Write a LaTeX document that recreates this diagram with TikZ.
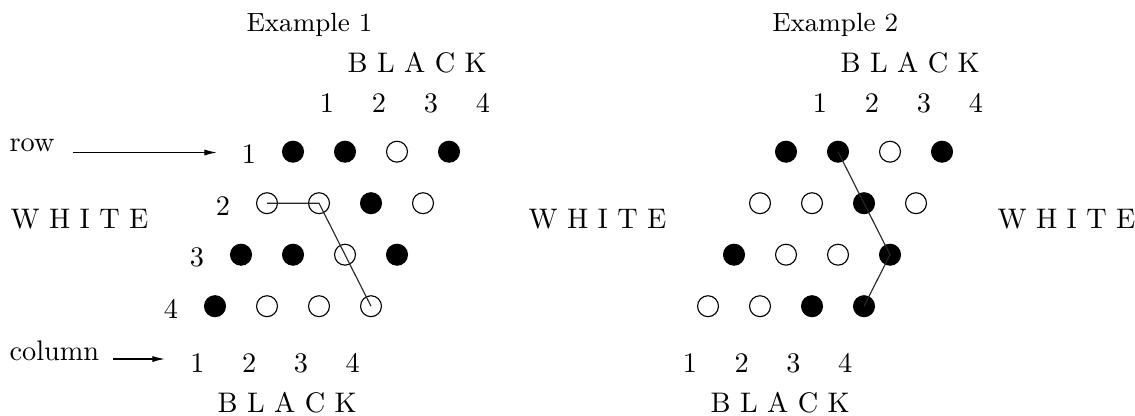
\documentclass[tikz,border=0pt]{standalone}
\usetikzlibrary{arrows.meta}
\begin{document}
\begin{tikzpicture}[x=0.3534pt,y=-0.3534pt,
  stone/.style={circle,inner sep=0pt,minimum size=7.4pt,line width=0.4pt,draw=black},
  bk/.style={stone,fill=black},
  wt/.style={stone},
  lbl/.style={inner sep=0pt,anchor=base},
  lblw/.style={inner sep=0pt,anchor=base west},
  ttl/.style={lblw,font=\fontsize{9.3}{11}\selectfont},
  conn/.style={line width=0.4pt,draw=black!85},
  ptr/.style={line width=0.45pt,-{Latex[length=4.5pt,width=2.2pt]}}
]
\useasboundingbox (0,0) rectangle (1135,415);

% ---------- Example 1 ----------
\node[ttl] (t1) at (246,31.5) {Example 1};
\node[lblw] (bt1) at (347,72.7) {B L A C K};
\node[lblw] (bb1) at (217,412) {B L A C K};
\node[lblw] (wl) at (10,228) {W H I T E};
\foreach \r/\c/\s in {1/1/bk,1/2/bk,1/3/wt,1/4/bk,
                      2/1/wt,2/2/wt,2/3/bk,2/4/wt,
                      3/1/bk,3/2/bk,3/3/wt,3/4/bk,
                      4/1/bk,4/2/wt,4/3/wt,4/4/wt}
  \node[\s] (a\r\c) at ({293+52*(\c-1)-26*(\r-1)},{151.7+51.5*(\r-1)}) {};
\foreach \r in {1,...,4}
  \node[lbl] (ar\r) at ({249-26*(\r-1)},{163.7+51.5*(\r-1)}) {\r};
\foreach \c in {1,...,4}
  \node[lbl] (at\c) at ({327+52*(\c-1)},112) {\c};
\foreach \c in {1,...,4}
  \node[lbl] (ab\c) at ({197.5+51.7*(\c-1)},372) {\c};
\draw[conn] (a21.center) -- (a22.center) -- (a44.center);

\node[lblw] (rowtxt) at (9,151) {row};
\coordinate (rowtail) at (73,152.5);
\coordinate (rowhead) at (217,152.5);
\draw[ptr] (rowtail) -- (rowhead);
\node[lblw] (coltxt) at (9,360) {column};
\coordinate (coltail) at (113,359);
\coordinate (colhead) at (165,359);
\draw[ptr] (coltail) -- (colhead);

% ---------- Example 2 ----------
\node[ttl] (t2) at (771.7,31.5) {Example 2};
\node[lblw] (bt2) at (840,72.7) {B L A C K};
\node[lblw] (bb2) at (710,412) {B L A C K};
\node[lblw] (wm) at (528,228) {W H I T E};
\node[lblw] (wr) at (997,228) {W H I T E};
\foreach \r/\c/\s in {1/1/bk,1/2/bk,1/3/wt,1/4/bk,
                      2/1/wt,2/2/wt,2/3/bk,2/4/wt,
                      3/1/bk,3/2/wt,3/3/wt,3/4/bk,
                      4/1/wt,4/2/wt,4/3/bk,4/4/bk}
  \node[\s] (b\r\c) at ({786+52*(\c-1)-26*(\r-1)},{151.7+51.5*(\r-1)}) {};
\foreach \c in {1,...,4}
  \node[lbl] (bt\c) at ({820+52*(\c-1)},112) {\c};
\foreach \c in {1,...,4}
  \node[lbl] (bbn\c) at ({690+51.7*(\c-1)},372) {\c};
\draw[conn] (b12.center) -- (b23.center) -- (b34.center) -- (b44.center);
\end{tikzpicture}
\end{document}
